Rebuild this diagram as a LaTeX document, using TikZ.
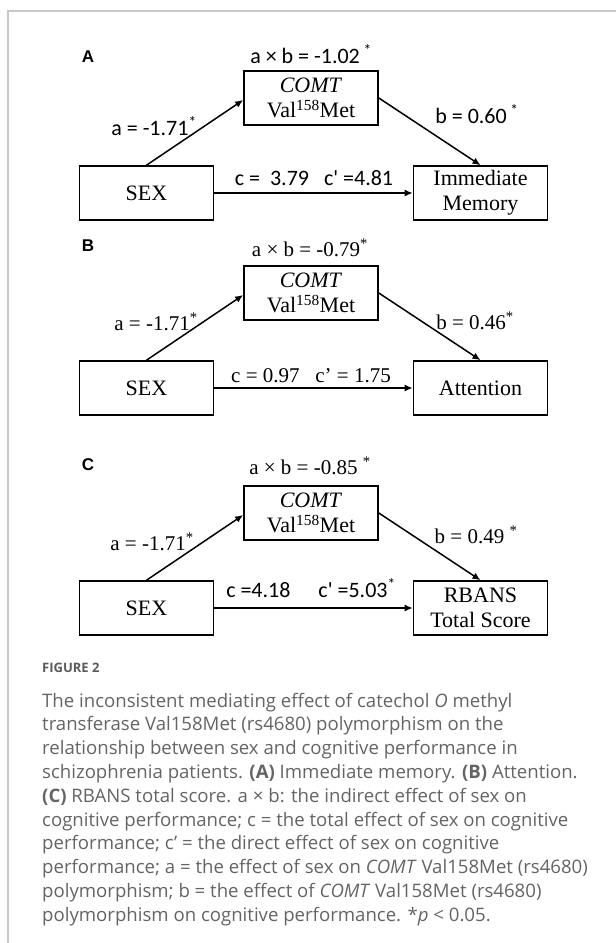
\documentclass[tikz,border=0pt]{standalone}
\usepackage{fontspec}
\setmainfont{Liberation Serif}
\newfontfamily\calibri{Carlito}
\newfontfamily\arial{Liberation Sans}
\newfontfamily\capfont{Open Sans}
\usetikzlibrary{arrows.meta}
\definecolor{framegray}{RGB}{200,200,200}
\definecolor{capgray}{RGB}{100,100,100}

\begin{document}
\begin{tikzpicture}[x=1pt, y=-1pt,
  box/.style={draw, line width=1.6pt, minimum width=134pt, minimum height=54pt,
    inner sep=0pt, align=center, font=\fontsize{22}{25}\selectfont},
  arr/.style={line width=1.5pt, -{Latex[length=8pt,width=7pt]}},
  letter/.style={font=\arial\bfseries\fontsize{17}{17}\selectfont, anchor=base, inner sep=0pt},
  tnr/.style={font=\fontsize{21}{21}\selectfont, anchor=base, inner sep=0pt},
  cal/.style={font=\calibri\fontsize{22}{22}\selectfont, anchor=base, inner sep=0pt},
  capline/.style={font=\capfont\fontsize{18.6}{18.6}\selectfont, text=capgray,
    anchor=base west, inner sep=0pt}]

\useasboundingbox (0,0) rectangle (616,943);

% page frame
\draw[framegray, line width=1.5pt] (616,11) -- (8,11) -- (8,943);

\begin{scope}

% draw boxes
\node[box] (comtA) at (311,98) {\textit{COMT}\\Val\textsuperscript{158}Met};
\node[box] (sexA) at (146.5,193) {SEX};
\node[box] (outA) at (480.5,193) {Immediate\\Memory};

% draw arrows
\draw[arr] (sexA.north) -- ([yshift=-2pt]comtA.west);
\draw[arr] (comtA.east) -- (outA.north);
\draw[arr] (sexA) -- (outA);

% label arrows
\node[letter] (labA) at (88,62) {A};
\node[cal] (abA) at (311,63) {a × b = -1.02\,\textsuperscript{*}};
\node[cal] (aA) at (154,135) {a = -1.71\textsuperscript{*}};
\node[cal] (bA) at (477,123) {b = 0.60\,\textsuperscript{*}};
\node[cal] (cA) at (314,185) {c =\ \ 3.79\ \ \ c' =4.81};

\end{scope}


\begin{scope}[yshift=-195pt]

% draw boxes
\node[box] (comtB) at (311,98) {\textit{COMT}\\Val\textsuperscript{158}Met};
\node[box] (sexB) at (146.5,193) {SEX};
\node[box] (outB) at (480.5,193) {Attention};

% draw arrows
\draw[arr] (sexB.north) -- ([yshift=-2pt]comtB.west);
\draw[arr] (comtB.east) -- (outB.north);
\draw[arr] (sexB) -- (outB);

% label arrows
\node[letter] (labB) at (88,56) {B};
\node[tnr] (abB) at (310,61) {a × b = -0.79\textsuperscript{*}};
\node[tnr] (aB) at (156,135) {a = -1.71\textsuperscript{*}};
\node[tnr] (bB) at (475,134) {b = 0.46\textsuperscript{*}};
\node[tnr] (cB) at (311,187) {c = 0.97\ \ \ c' = 1.75};

\end{scope}


\begin{scope}[yshift=-415pt]

% draw boxes
\node[box] (comtC) at (311,98) {\textit{COMT}\\Val\textsuperscript{158}Met};
\node[box] (sexC) at (146.5,193) {SEX};
\node[box] (outC) at (480.5,193) {RBANS\\Total Score};

% draw arrows
\draw[arr] (sexC.north) -- ([yshift=-2pt]comtC.west);
\draw[arr] (comtC.east) -- (outC.north);
\draw[arr] (sexC) -- (outC);

% label arrows
\node[letter] (labC) at (88,55) {C};
\node[tnr] (abC) at (310,59) {a × b = -0.85 \textsuperscript{*}};
\node[tnr] (aC) at (152,135) {a = -1.71\textsuperscript{*}};
\node[tnr] (bC) at (476,128) {b = 0.49 \textsuperscript{*}};
\node[cal] (cC) at (311,182) {c =4.18\hspace{28pt}c' =5.03\textsuperscript{*}};

\end{scope}

% caption
\node[capline, font=\capfont\bfseries\fontsize{13}{13}\selectfont, text=capgray!90!black]
  (figno) at (42,672) {FIGURE 2};

\foreach \txt [count=\i] in {
  {The inconsistent mediating effect of catechol \textit{O} methyl},
  {transferase Val158Met (rs4680) polymorphism on the},
  {relationship between sex and cognitive performance in},
  {schizophrenia patients. \textbf{(A)} Immediate memory. \textbf{(B)} Attention.},
  {\textbf{(C)} RBANS total score. a × b: the indirect effect of sex on},
  {cognitive performance; c = the total effect of sex on cognitive},
  {performance; c’ = the direct effect of sex on cognitive},
  {performance; a = the effect of sex on \textit{COMT} Val158Met (rs4680)},
  {polymorphism; b = the effect of \textit{COMT} Val158Met (rs4680)},
  {polymorphism on cognitive performance. *\textit{p} < 0.05.}}
  \node[capline] (cap\i) at (42,{707+23.8*(\i-1)}) {\txt};

\end{tikzpicture}
\end{document}
